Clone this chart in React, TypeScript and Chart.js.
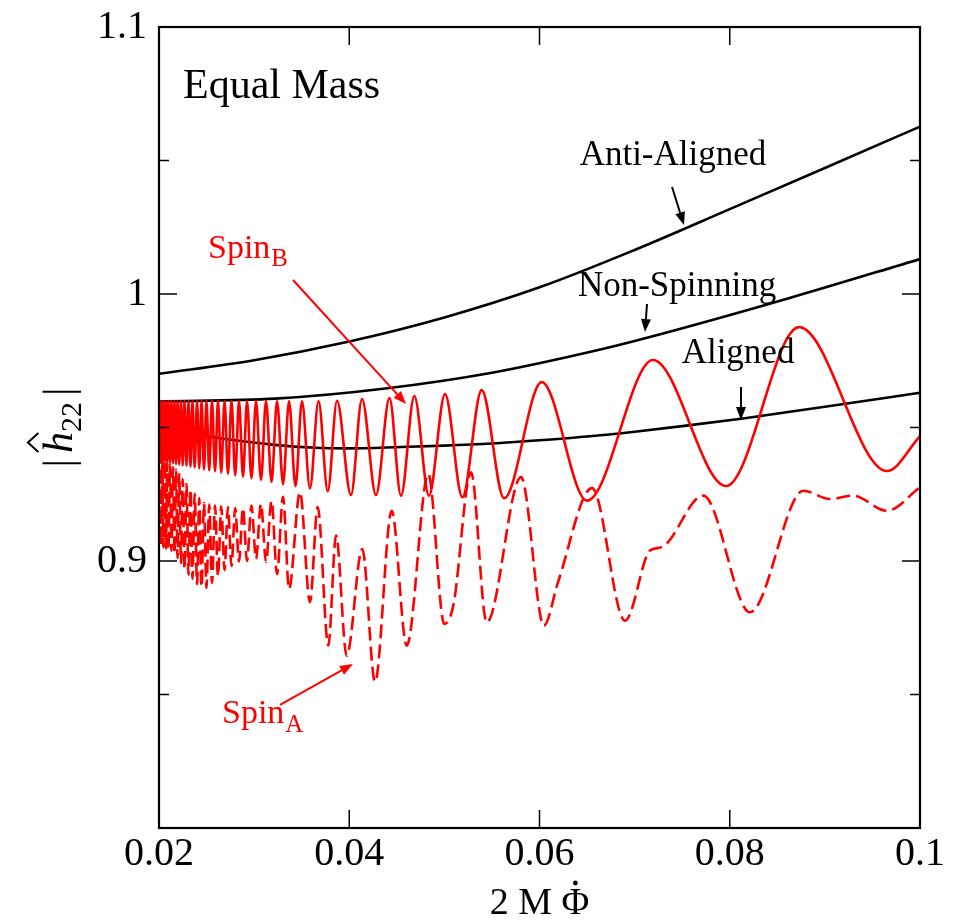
import React, { useEffect, useRef } from "react";
import { Chart, registerables } from "chart.js";
Chart.register(...registerables);

const FONT = '"Liberation Serif", "Times New Roman", Times, serif';

// ---------- axis settings ----------
const X_MIN = 0.02;
const X_MAX = 0.1;
const X_STEP = 0.02;
const Y_MIN = 0.8;
const Y_MAX = 1.1;
const Y_STEP = 0.05;
const Y_LABELED = [0.9, 1.0, 1.1];

// ---------- black curves ----------
const antiAlignedX = [0.02, 0.03, 0.04, 0.05, 0.06, 0.07, 0.08, 0.09, 0.1];
const antiAlignedY = [0.9701, 0.9752, 0.9822, 0.9912, 1.0025, 1.0165, 1.0318, 1.0472, 1.0627];

const nonSpinningX = [0.02, 0.0322, 0.0438, 0.055, 0.0664, 0.0712, 0.0863, 0.1];
const nonSpinningY = [0.9597, 0.9608, 0.9646, 0.9705, 0.9792, 0.9835, 0.9985, 1.0131];

const alignedX = [0.02, 0.0255, 0.0319, 0.0365, 0.0397, 0.0455, 0.05, 0.055, 0.06, 0.065, 0.07, 0.075, 0.0814, 0.09, 0.1];
const alignedY = [0.951, 0.9465, 0.9436, 0.9424, 0.9422, 0.9427, 0.9432, 0.944, 0.9452, 0.9466, 0.9484, 0.9505, 0.9534, 0.9578, 0.963];

// ---------- Spin_B (solid red) ----------
const spinBX = [
  0.02, 0.02011, 0.02021, 0.02034, 0.02047, 0.0206, 0.02074, 0.02086, 0.021, 0.02116,
  0.02131, 0.02147, 0.02163, 0.02179, 0.02195, 0.02212, 0.02231, 0.02249, 0.02268, 0.02289,
  0.0231, 0.02331, 0.02352, 0.02375, 0.024, 0.02423, 0.02447, 0.02473, 0.02499, 0.02528,
  0.02557, 0.02589, 0.0262, 0.02654, 0.02689, 0.02725, 0.02762, 0.02801, 0.02841, 0.02883,
  0.02925, 0.02972, 0.0302, 0.03072, 0.03125, 0.03183, 0.03241, 0.03304, 0.03367, 0.03435,
  0.03503, 0.03587, 0.03677, 0.03774, 0.03871, 0.04018, 0.04134, 0.04281, 0.04423, 0.04544,
  0.04684, 0.04838, 0.05007, 0.05189, 0.05392, 0.05627, 0.06023, 0.06499, 0.07193, 0.07961,
  0.08728, 0.09653, 0.1,
];
const spinBY = [
  0.9599, 0.9375, 0.9599, 0.9373, 0.9599, 0.9371, 0.9599, 0.9369, 0.9599, 0.9367,
  0.9599, 0.9365, 0.9599, 0.9363, 0.9599, 0.9361, 0.9599, 0.9358, 0.9599, 0.9356,
  0.9599, 0.9353, 0.9599, 0.935, 0.9599, 0.9347, 0.9599, 0.9343, 0.9599, 0.934,
  0.9599, 0.9336, 0.9599, 0.9331, 0.9599, 0.9327, 0.9599, 0.9321, 0.9599, 0.9316,
  0.9599, 0.931, 0.9599, 0.9303, 0.9599, 0.9296, 0.9599, 0.9288, 0.9599, 0.928,
  0.9599, 0.9272, 0.9599, 0.9261, 0.96, 0.9247, 0.9607, 0.9247, 0.961, 0.9245,
  0.9618, 0.9245, 0.9625, 0.9239, 0.964, 0.9235, 0.967, 0.9226, 0.9753, 0.9281,
  0.9876, 0.9337, 0.9468,
];

// ---------- Spin_A (dashed red) ----------
const spinAX = [
  0.02, 0.02011, 0.02021, 0.02034, 0.02047, 0.0206, 0.02074, 0.02086, 0.021, 0.02116,
  0.02131, 0.02147, 0.02163, 0.02179, 0.02195, 0.02212, 0.02231, 0.02249, 0.02268, 0.02289,
  0.0231, 0.02331, 0.02352, 0.02375, 0.024, 0.02423, 0.02447, 0.02473, 0.02499, 0.02528,
  0.02557, 0.02589, 0.0262, 0.02654, 0.02689, 0.02725, 0.02762, 0.02801, 0.02841, 0.02883,
  0.02925, 0.02972, 0.0302, 0.03072, 0.03125, 0.03183, 0.03241, 0.03304, 0.03367, 0.03482,
  0.03587, 0.03668, 0.0378, 0.03861, 0.03973, 0.04137, 0.04271, 0.04446, 0.04604, 0.04831,
  0.04999, 0.05094, 0.0528, 0.05445, 0.05806, 0.06047, 0.06195, 0.06552, 0.06899, 0.07162,
  0.07285, 0.07722, 0.08213, 0.08773, 0.09056, 0.09296, 0.0965, 0.1,
];
const spinAY = [
  0.9064, 0.939, 0.906, 0.9383, 0.9052, 0.9375, 0.9047, 0.9368, 0.9043, 0.936,
  0.9038, 0.9351, 0.9028, 0.9342, 0.9011, 0.9326, 0.8993, 0.9307, 0.897, 0.9288,
  0.8949, 0.9268, 0.8933, 0.9252, 0.8914, 0.9236, 0.8903, 0.9217, 0.8899, 0.9211,
  0.8918, 0.9208, 0.8944, 0.9205, 0.8966, 0.9202, 0.8981, 0.9198, 0.8998, 0.9199,
  0.9, 0.9208, 0.9008, 0.9214, 0.8996, 0.9225, 0.8951, 0.924, 0.8895, 0.9258,
  0.8846, 0.9202, 0.8683, 0.9095, 0.8645, 0.9045, 0.8547, 0.9188, 0.8683, 0.9326,
  0.8764, 0.8833, 0.9332, 0.877, 0.9314, 0.8758, 0.8921, 0.9273, 0.8776, 0.9039,
  0.9052, 0.9245, 0.8808, 0.9263, 0.9232, 0.9245, 0.9188, 0.9276,
];

// ---------- annotations (data coordinates) ----------
const NOTES = [
  { text: "Equal Mass", x: 0.02252, y: 1.0775, color: "#000", size: 42, align: "left" },
  { text: "Anti-Aligned", x: 0.07403, y: 1.0517, color: "#000", size: 35, align: "center" },
  { text: "Non-Spinning", x: 0.07446, y: 1.0026, color: "#000", size: 35, align: "center" },
  { text: "Aligned", x: 0.08087, y: 0.9775, color: "#000", size: 35, align: "center" },
];
const SUB_NOTES = [
  { text: "Spin", sub: "B", x: 0.02515, y: 1.0169, color: "#ff0000" },
  { text: "Spin", sub: "A", x: 0.02662, y: 0.8427, color: "#ff0000" },
];
const ARROWS = [
  { x1: 0.07393, y1: 1.0401, x2: 0.07519, y2: 1.0258, color: "#000" },
  { x1: 0.0713, y1: 0.99625, x2: 0.07109, y2: 0.98577, color: "#000" },
  { x1: 0.08118, y1: 0.96517, x2: 0.08118, y2: 0.95281, color: "#000" },
  { x1: 0.03409, y1: 1.00524, x2: 0.04597, y2: 0.9588, color: "#ff0000" },
  { x1: 0.03272, y1: 0.84607, x2: 0.04039, y2: 0.86142, color: "#ff0000" },
];

function pts(xs: number[], ys: number[]) {
  return xs.map((x, i) => ({ x, y: ys[i] }));
}

function isLabeledY(v: number) {
  return Y_LABELED.some((l) => Math.abs(l - v) < 1e-6);
}
function isMajorY(v: number) {
  return Math.abs(v * 10 - Math.round(v * 10)) < 1e-6;
}

const framePlugin = {
  id: "frameAndNotes",
  afterDraw(chart: any) {
    const { ctx, chartArea: a, scales } = chart;
    const xs = scales.x;
    const ys = scales.y;
    ctx.save();
    ctx.strokeStyle = "#000";
    ctx.lineCap = "butt";
    ctx.lineWidth = 1.5;
    const line = (x1: number, y1: number, x2: number, y2: number) => {
      ctx.beginPath();
      ctx.moveTo(x1, y1);
      ctx.lineTo(x2, y2);
      ctx.stroke();
    };
    xs.ticks.forEach((t: any) => {
      const px = xs.getPixelForValue(t.value);
      if (px <= a.left + 1 || px >= a.right - 1) return;
      line(px, a.bottom, px, a.bottom - 18);
      line(px, a.top, px, a.top + 18);
    });
    ys.ticks.forEach((t: any) => {
      const py = ys.getPixelForValue(t.value);
      if (py <= a.top + 1 || py >= a.bottom - 1) return;
      const len = isMajorY(t.value) ? 18 : 10;
      line(a.left, py, a.left + len, py);
      line(a.right, py, a.right - len, py);
    });
    ctx.lineWidth = 2.2;
    ctx.strokeRect(a.left, a.top, a.right - a.left, a.bottom - a.top);

    ARROWS.forEach((ar) => {
      const x1 = xs.getPixelForValue(ar.x1);
      const y1 = ys.getPixelForValue(ar.y1);
      const x2 = xs.getPixelForValue(ar.x2);
      const y2 = ys.getPixelForValue(ar.y2);
      const ang = Math.atan2(y2 - y1, x2 - x1);
      const hl = 13;
      const hw = 5;
      ctx.strokeStyle = ar.color;
      ctx.fillStyle = ar.color;
      ctx.lineWidth = 2;
      const bx = x2 - hl * Math.cos(ang);
      const by = y2 - hl * Math.sin(ang);
      line(x1, y1, bx, by);
      ctx.beginPath();
      ctx.moveTo(x2, y2);
      ctx.lineTo(bx + hw * Math.sin(ang), by - hw * Math.cos(ang));
      ctx.lineTo(bx - hw * Math.sin(ang), by + hw * Math.cos(ang));
      ctx.closePath();
      ctx.fill();
    });

    ctx.textBaseline = "middle";
    NOTES.forEach((n) => {
      ctx.font = `${n.size}px ${FONT}`;
      ctx.fillStyle = n.color;
      ctx.textAlign = n.align as CanvasTextAlign;
      ctx.fillText(n.text, xs.getPixelForValue(n.x), ys.getPixelForValue(n.y));
    });
    SUB_NOTES.forEach((n) => {
      const px = xs.getPixelForValue(n.x);
      const py = ys.getPixelForValue(n.y);
      ctx.fillStyle = n.color;
      ctx.textAlign = "left";
      ctx.font = `34px ${FONT}`;
      ctx.fillText(n.text, px, py);
      const w = ctx.measureText(n.text).width;
      ctx.font = `25px ${FONT}`;
      ctx.fillText(n.sub, px + w + 1, py + 11);
    });

    // x title: 2 M Phi-dot
    ctx.fillStyle = "#000";
    ctx.font = `38px ${FONT}`;
    ctx.textAlign = "left";
    ctx.textBaseline = "alphabetic";
    const xt = "2 M \u03A6";
    const xtw = ctx.measureText(xt).width;
    const cx = (a.left + a.right) / 2;
    const baseY = a.bottom + 86;
    const tx0 = cx - xtw / 2;
    ctx.fillText(xt, tx0, baseY);
    const phiW = ctx.measureText("\u03A6").width;
    ctx.beginPath();
    ctx.arc(tx0 + xtw - phiW / 2, baseY - 31, 2.4, 0, Math.PI * 2);
    ctx.fill();

    // y title: |h^_22|
    ctx.save();
    ctx.translate(a.left - 87, (a.top + a.bottom) / 2);
    ctx.rotate(-Math.PI / 2);
    const f = 42;
    ctx.font = `${f}px ${FONT}`;
    const barW = ctx.measureText("|").width;
    ctx.font = `italic ${f}px ${FONT}`;
    const hW = ctx.measureText("h").width;
    ctx.font = `${Math.round(f * 0.72)}px ${FONT}`;
    const subW = ctx.measureText("22").width;
    const gap = 6;
    const total = barW + gap + hW + subW + gap + barW;
    let x = -total / 2;
    ctx.font = `${f}px ${FONT}`;
    ctx.fillText("|", x, 0);
    x += barW + gap;
    ctx.font = `italic ${f}px ${FONT}`;
    ctx.fillText("h", x, 0);
    ctx.strokeStyle = "#000";
    ctx.lineWidth = 2;
    ctx.beginPath();
    ctx.moveTo(x + hW * 0.05, -f * 0.8);
    ctx.lineTo(x + hW * 0.5, -f * 1.05);
    ctx.lineTo(x + hW * 0.95, -f * 0.8);
    ctx.stroke();
    x += hW;
    ctx.font = `${Math.round(f * 0.72)}px ${FONT}`;
    ctx.fillText("22", x, f * 0.22);
    x += subW + gap;
    ctx.font = `${f}px ${FONT}`;
    ctx.fillText("|", x, 0);
    ctx.restore();

    ctx.restore();
  },
};

export default function App() {
  const ref = useRef<HTMLCanvasElement>(null);
  useEffect(() => {
    const canvas = ref.current;
    if (!canvas) return;
    const lineDs = (label: string, xs: number[], ys: number[], color: string, dash: number[] = []) => ({
      label,
      data: pts(xs, ys),
      borderColor: color,
      backgroundColor: color,
      borderWidth: 2.6,
      borderDash: dash,
      pointRadius: 0,
      fill: false,
      cubicInterpolationMode: "monotone" as const,
    });
    const chart = new Chart(canvas, {
      type: "line",
      data: {
        datasets: [
          lineDs("Spin_B", spinBX, spinBY, "#ff0000"),
          lineDs("Spin_A", spinAX, spinAY, "#ff0000", [14, 6]),
          lineDs("Anti-Aligned", antiAlignedX, antiAlignedY, "#000000"),
          lineDs("Non-Spinning", nonSpinningX, nonSpinningY, "#000000"),
          lineDs("Aligned", alignedX, alignedY, "#000000"),
        ],
      },
      options: {
        responsive: false,
        animation: false,
        devicePixelRatio: 1,
        layout: { padding: { top: 27, right: 38, bottom: 0, left: 0 } },
        plugins: { legend: { display: false }, tooltip: { enabled: false } },
        scales: {
          x: {
            type: "linear",
            min: X_MIN,
            max: X_MAX,
            grid: { display: false, drawTicks: false },
            border: { display: false },
            ticks: {
              stepSize: X_STEP,
              autoSkip: false,
              maxRotation: 0,
              padding: 2,
              color: "#000",
              font: { family: FONT, size: 40 },
              callback: (v: any) => String(Math.round(Number(v) * 100) / 100),
            },
            afterFit: (s: any) => {
              s.height = 93;
              s.paddingLeft = 0;
              s.paddingRight = 0;
            },
          },
          y: {
            type: "linear",
            min: Y_MIN,
            max: Y_MAX,
            grid: { display: false, drawTicks: false },
            border: { display: false },
            ticks: {
              stepSize: Y_STEP,
              autoSkip: false,
              padding: 12,
              color: "#000",
              font: { family: FONT, size: 40 },
              callback: (v: any) => (isLabeledY(Number(v)) ? String(Math.round(Number(v) * 100) / 100) : ""),
            },
            afterFit: (s: any) => {
              s.width = 159;
              s.paddingTop = 0;
              s.paddingBottom = 0;
            },
          },
        },
      },
      plugins: [framePlugin],
    });
    return () => chart.destroy();
  }, []);
  return (
    <div style={{ position: "fixed", left: 0, top: 0, width: 958, height: 921, background: "#fff" }}>
      <canvas ref={ref} width={958} height={921} style={{ display: "block", width: 958, height: 921 }} />
    </div>
  );
}
